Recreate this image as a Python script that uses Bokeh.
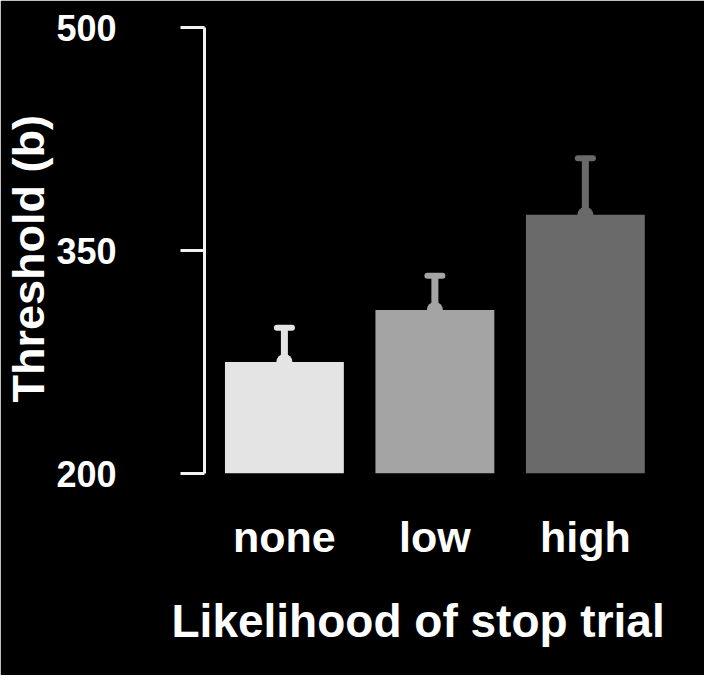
import numpy as np
from bokeh.plotting import figure
from bokeh.models import Range1d, FixedTicker, Title
from bokeh.embed import file_html
from bokeh.resources import INLINE

# ---- data ----
categories = ["none", "low", "high"]
threshold_mean = [275, 310, 374]
threshold_upper = [298, 333, 412]
bar_colors = ["#e4e4e4", "#a4a4a4", "#6a6a6a"]
y_ticks = [200, 350, 500]

xs = np.arange(len(categories))

p = figure(width=704, height=675, output_backend="svg", toolbar_location=None,
           x_range=Range1d(-0.531, 2.599), y_range=Range1d(200, 500),
           min_border_left=202, min_border_right=29, min_border_top=27, min_border_bottom=202)

p.background_fill_color = "black"
p.border_fill_color = "black"
p.outline_line_color = "black"
p.outline_line_width = 2
p.xgrid.visible = False
p.ygrid.visible = False

# bars
p.vbar(x=xs, top=threshold_mean, bottom=200, width=0.79, fill_color=bar_colors, line_color=None)
# error stems
p.segment(x0=xs, y0=threshold_mean, x1=xs, y1=threshold_upper, line_color=bar_colors, line_width=7)
# dots at mean
p.scatter(x=xs, y=threshold_mean, size=16, fill_color=bar_colors, line_color=None)
# caps
cap = 0.05
p.segment(x0=xs - cap, y0=threshold_upper, x1=xs + cap, y1=threshold_upper,
          line_color=bar_colors, line_width=6, line_cap="round")

# y axis
ya = p.yaxis[0]
ya.ticker = FixedTicker(ticks=y_ticks)
ya.bounds = (200, 500)
ya.axis_line_color = "#f2f2f2"
ya.axis_line_width = 3
ya.major_tick_line_color = "#f2f2f2"
ya.major_tick_line_width = 3
ya.major_tick_out = 24
ya.major_tick_in = 0
ya.minor_tick_line_color = None
ya.major_label_standoff = 64
ya.major_label_text_font = "Liberation Sans"
ya.major_label_text_font_style = "bold"
ya.major_label_text_font_size = "36px"
ya.major_label_text_color = "white"

# x axis
xa = p.xaxis[0]
xa.ticker = FixedTicker(ticks=list(xs))
xa.major_label_overrides = {int(i): c for i, c in zip(xs, categories)}
xa.axis_line_color = None
xa.major_tick_line_color = None
xa.minor_tick_line_color = None
xa.major_tick_out = 0
xa.major_tick_in = 0
xa.major_label_standoff = 39
xa.major_label_text_font = "Liberation Sans"
xa.major_label_text_font_style = "bold"
xa.major_label_text_font_size = "43px"
xa.major_label_text_color = "white"

# axis titles
p.add_layout(Title(text="Likelihood of stop trial", align="left", offset=-33, standoff=58,
                   text_font="Liberation Sans", text_font_style="bold", text_font_size="46px",
                   text_color="white"), "below")
p.add_layout(Title(text="Threshold (b)", align="left", offset=71, standoff=0,
                   text_font="Liberation Sans", text_font_style="bold", text_font_size="45px",
                   text_color="white"), "left")

open("out.html", "w").write(file_html(p, INLINE))
